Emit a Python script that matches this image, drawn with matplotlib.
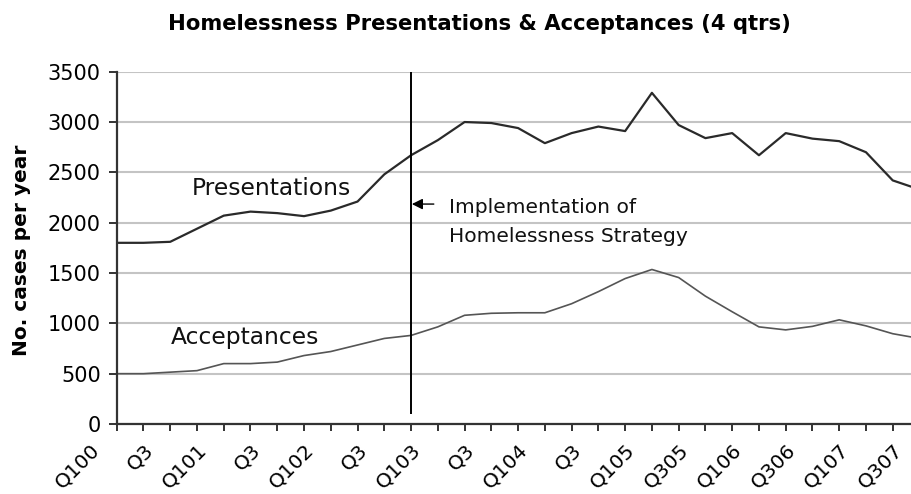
import matplotlib
matplotlib.use("Agg")
import matplotlib.pyplot as plt
import matplotlib.transforms as mtransforms
import numpy as np

plt.rcParams['font.family'] = ['DejaVu Sans']

# ---- data ----
tick_labels = ["Q100", "", "Q3", "", "Q101", "", "Q3", "", "Q102", "", "Q3", "",
               "Q103", "", "Q3", "", "Q104", "", "Q3", "", "Q105", "", "Q305", "",
               "Q106", "", "Q306", "", "Q107", "", "Q307"]
presentations = [1800, 1800, 1810, 1940, 2070, 2110, 2095, 2065, 2120, 2210,
                 2480, 2670, 2820, 3000, 2990, 2940, 2790, 2890, 2955, 2910,
                 3290, 2970, 2840, 2890, 2670, 2890, 2835, 2810, 2700, 2420, 2330]
acceptances = [500, 500, 515, 530, 600, 600, 615, 680, 720, 785,
               850, 880, 965, 1080, 1100, 1105, 1105, 1195, 1315, 1445,
               1535, 1455, 1270, 1115, 965, 935, 970, 1035, 975, 897, 850]
y_ticks = [0, 500, 1000, 1500, 2000, 2500, 3000, 3500]
strategy_index = 11
strategy_line_bottom = 100

title = "Homelessness Presentations & Acceptances (4 qtrs)"
ylabel = "No. cases per year"

W, H = 912, 494
fig = plt.figure(figsize=(W / 100, H / 100), dpi=100)

def px(x, y):
    return x / W, 1 - y / H

left, top = 116.7, 71.7
right, bottom = 919.5, 424.0
ax = fig.add_axes([left / W, 1 - bottom / H, (right - left) / W, (bottom - top) / H])

x = np.arange(len(presentations))
ax.plot(x, presentations, color="#2a2a2a", lw=1.6)
ax.plot(x, acceptances, color="#555555", lw=1.2)

ax.set_xlim(0, len(presentations) - 1)
ax.set_ylim(0, 3500)
ax.set_yticks(y_ticks)
ax.set_yticklabels([str(v) for v in y_ticks], fontsize=15)
ax.yaxis.grid(True, color="#c4c4c4", lw=1.5)
ax.set_axisbelow(True)

ax.set_xticks(x)
ax.set_xticklabels([""] * len(x))
# rotated category labels, placed on the x-axis transform
offset = mtransforms.ScaledTranslation(-0.20, -0.23, fig.dpi_scale_trans)
lab_tr = ax.get_xaxis_transform() + offset
for i, lab in zip(x, tick_labels):
    if lab:
        ax.text(i, 0, lab, transform=lab_tr, fontsize=14.5, rotation=45,
                ha="right", va="center", rotation_mode="anchor", clip_on=False)

for s in ["top", "right"]:
    ax.spines[s].set_visible(False)
for s in ["left", "bottom"]:
    ax.spines[s].set_color("#333333")
    ax.spines[s].set_linewidth(1.6)
ax.tick_params(axis="y", length=6, width=1.4, color="#333333", pad=5.5)
ax.tick_params(axis="x", length=5, width=1.4, color="#333333")

# implementation line
ax.vlines(strategy_index, strategy_line_bottom, 3500, color="black", lw=1.4)
ax.annotate("", xy=(strategy_index + 0.03, 2185), xytext=(strategy_index + 0.85, 2185),
            arrowprops=dict(arrowstyle="-|>", color="black", lw=1.0,
                            mutation_scale=16, shrinkA=0, shrinkB=0))
ax.text(strategy_index + 1.42, 2096, "Implementation of", fontsize=14.6,
        va="baseline", ha="left", color="#111111")
ax.text(strategy_index + 1.42, 1808, "Homelessness Strategy", fontsize=14.6,
        va="baseline", ha="left", color="#111111")

ax.text(2.8, 2275, "Presentations", fontsize=16.8, va="baseline", ha="left", color="#111111")
ax.text(2.03, 795, "Acceptances", fontsize=16.8, va="baseline", ha="left", color="#111111")

tx, ty = px(479.5, 30)
fig.text(tx, ty, title, fontsize=15.2, fontweight="bold", ha="center", va="baseline")
lx, ly = px(22, 250)
fig.text(lx, ly, ylabel, fontsize=14.5, fontweight="bold", rotation=90,
         ha="center", va="center")

fig.savefig("out.png", dpi=100)
